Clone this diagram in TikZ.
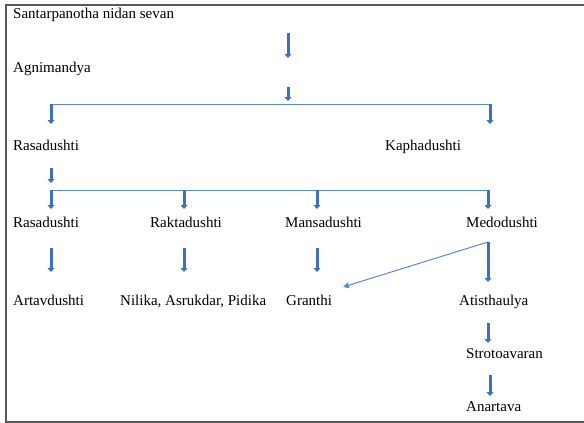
\documentclass[tikz,border=0pt]{standalone}
\usepackage{fontspec}
\setmainfont{Liberation Serif}
\usetikzlibrary{arrows.meta}
\definecolor{ablue}{HTML}{3F6FC0}
\definecolor{lblue}{HTML}{5B87D0}
\definecolor{frame}{HTML}{595959}
\begin{document}
\begin{tikzpicture}[x=1pt,y=-1pt,
  lbl/.style={anchor=base west,inner sep=0pt,font=\fontsize{15}{18}\selectfont},
  bigarrow/.style={ablue,line width=3pt,-{Triangle[width=7pt,length=4pt]}},
  thinline/.style={lblue,line width=1pt},
  thinarrow/.style={lblue,line width=1pt,-{Triangle[width=6pt,length=6pt]}}]
\useasboundingbox (0,0) rectangle (584,423);
\begin{scope}
\clip (0,0) rectangle (584,423);
\draw[frame,line width=1.4pt] (6,5) rectangle (600,422);
\end{scope}
% texts
\node[lbl] (t1) at (13,19) {Santarpanotha nidan sevan};
\node[lbl] (t2) at (13,72) {Agnimandya};
\node[lbl] (r2a) at (13,150) {Rasadushti};
\node[lbl] (r2b) at (385,150) {Kaphadushti};
\node[lbl] (r3a) at (13,227) {Rasadushti};
\node[lbl] (r3b) at (150,227) {Raktadushti};
\node[lbl] (r3c) at (285,227) {Mansadushti};
\node[lbl] (r3d) at (466,227) {Medodushti};
\node[lbl] (r4a) at (13,305) {Artavdushti};
\node[lbl] (r4b) at (120,305) {Nilika, Asrukdar, Pidika};
\node[lbl] (r4c) at (286,305) {Granthi};
\node[lbl] (r4d) at (459,305) {Atisthaulya};
\node[lbl] (r5) at (466,358) {Strotoavaran};
\node[lbl] (r6) at (466,411) {Anartava};
% coordinates
\coordinate (a1s) at (288,33); \coordinate (a1e) at (288,58);
\coordinate (a2s) at (288,87); \coordinate (a2e) at (288,101);
\coordinate (h1l) at (51,104); \coordinate (h1r) at (490,104);
\coordinate (h1le) at (51,124); \coordinate (h1re) at (490,124);
\coordinate (b1s) at (51,168); \coordinate (b1e) at (51,183);
\coordinate (h2l) at (51,190); \coordinate (h2b) at (184,190);
\coordinate (h2c) at (317,190); \coordinate (h2r) at (488,190);
\coordinate (h2le) at (51,209); \coordinate (h2be) at (184,209);
\coordinate (h2ce) at (317,209); \coordinate (h2re) at (488,209);
\coordinate (c1s) at (51,248); \coordinate (c1e) at (51,272);
\coordinate (c2s) at (184,248); \coordinate (c2e) at (184,272);
\coordinate (c3s) at (317,248); \coordinate (c3e) at (317,272);
\coordinate (md) at (488,242); \coordinate (mde) at (488,282);
\coordinate (gr) at (343,287);
\coordinate (d1s) at (488,323); \coordinate (d1e) at (488,343);
\coordinate (d2s) at (490,375); \coordinate (d2e) at (490,396);
% connectors
\draw[bigarrow] (a1s) -- (a1e);
\draw[bigarrow] (a2s) -- (a2e);
\draw[thinline] (h1l) -- (h1r);
\draw[bigarrow] (h1l) -- (h1le);
\draw[bigarrow] (h1r) -- (h1re);
\draw[bigarrow] (b1s) -- (b1e);
\draw[thinline] (h2l) -- (h2r);
\draw[bigarrow] (h2l) -- (h2le);
\draw[bigarrow] (h2b) -- (h2be);
\draw[bigarrow] (h2c) -- (h2ce);
\draw[bigarrow] (h2r) -- (h2re);
\draw[bigarrow] (c1s) -- (c1e);
\draw[bigarrow] (c2s) -- (c2e);
\draw[bigarrow] (c3s) -- (c3e);
\draw[thinarrow] (md) -- (gr);
\draw[bigarrow] (md) -- (mde);
\draw[bigarrow] (d1s) -- (d1e);
\draw[bigarrow] (d2s) -- (d2e);
\end{tikzpicture}
\end{document}
